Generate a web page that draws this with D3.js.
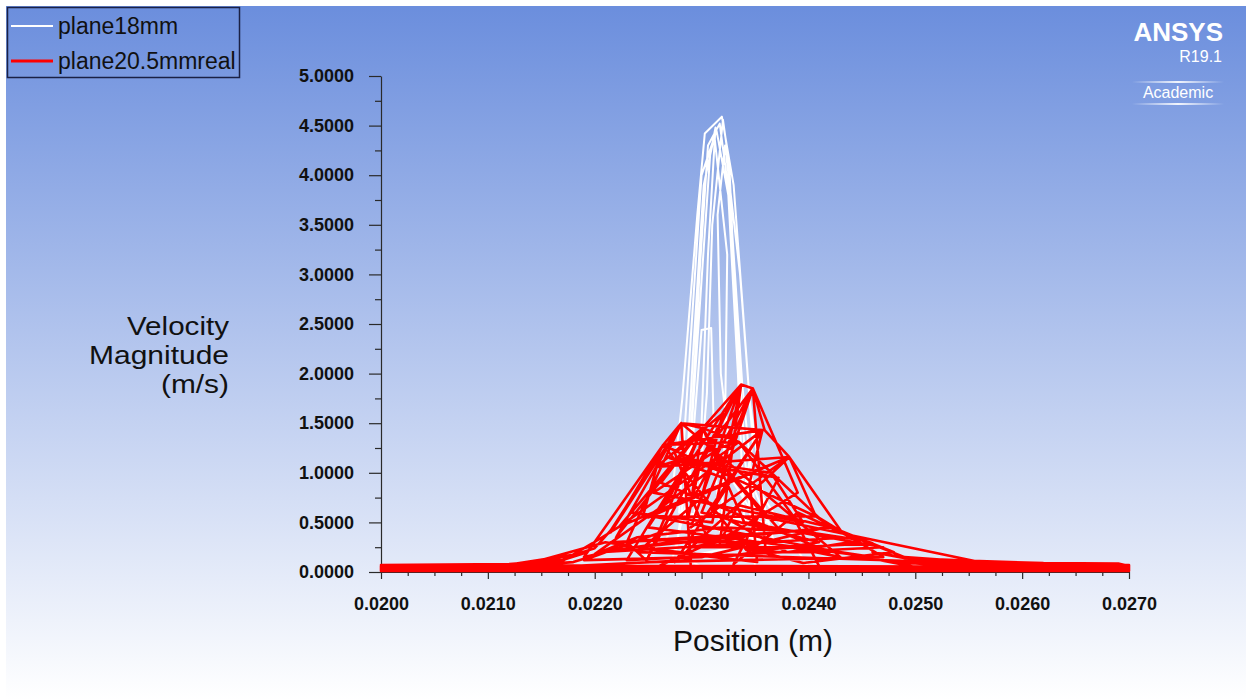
<!DOCTYPE html>
<html>
<head>
<meta charset="utf-8">
<script src="https://cdn.jsdelivr.net/npm/d3@7"></script>
<style>
  body { margin: 0; background: #fff; }
  svg { display: block; font-family: "Liberation Sans", Arial, sans-serif; }
</style>
</head>
<body>
<svg id="chart" width="1250" height="700"></svg>
<script>
// series names, as in the legend
const seriesNames = ["plane18mm", "plane20.5mmreal"];

// plane18mm : node order as Fluent plots it (position m, velocity m/s)
const whiteX = [0.02000, 0.02150, 0.02240, 0.02268, 0.02282, 0.02296, 0.02303, 0.02319, 0.02330, 0.02345,
  0.02358, 0.02372, 0.02352, 0.02338, 0.02327, 0.02317, 0.02306, 0.02298, 0.02290, 0.02280,
  0.02272, 0.02288, 0.02300, 0.02309, 0.02312, 0.02318, 0.02322, 0.02324, 0.02312, 0.02302,
  0.02292, 0.02286, 0.02276, 0.02300, 0.02350, 0.02341, 0.02332, 0.02326, 0.02320, 0.02310,
  0.02305, 0.02296, 0.02283, 0.02330, 0.02348, 0.02336, 0.02322, 0.02315, 0.02318, 0.02330,
  0.02365, 0.02285, 0.02294, 0.02308, 0.02313, 0.02306, 0.02300, 0.02292, 0.02340, 0.02334,
  0.02325, 0.02314, 0.02300, 0.02279, 0.02362, 0.02343, 0.02400, 0.02700];
const whiteY = [0.03, 0.04, 0.08, 0.35, 1.75, 3.60, 4.42, 4.59, 3.90, 1.73,
  0.70, 0.12, 0.40, 1.90, 3.70, 4.52, 4.30, 3.00, 1.40, 0.45,
  0.10, 0.80, 2.44, 2.46, 1.20, 0.30, 1.50, 3.20, 4.40, 3.90,
  2.20, 1.00, 0.20, 0.05, 0.06, 1.10, 2.60, 4.10, 4.56, 3.50,
  1.80, 0.60, 0.15, 0.25, 1.30, 3.00, 4.30, 3.60, 2.00, 0.90,
  0.30, 0.50, 2.00, 4.20, 4.48, 3.20, 1.50, 0.40, 0.50, 2.00,
  3.80, 4.45, 4.00, 0.60, 0.50, 1.00, 0.05, 0.03];

// plane20.5mmreal
const redX = [0.02000, 0.02050, 0.02100, 0.02140, 0.02180, 0.02200, 0.02215, 0.02235, 0.02250, 0.02264,
  0.02281, 0.02301, 0.02337, 0.02348, 0.02359, 0.02382, 0.02407, 0.02426, 0.02457, 0.02490,
  0.02530, 0.02600, 0.02660, 0.02700, 0.02700, 0.02500, 0.02410, 0.02385, 0.02335, 0.02301,
  0.02258, 0.02245, 0.02223, 0.02198, 0.02160, 0.02290, 0.02287, 0.02298, 0.02337, 0.02317,
  0.02334, 0.02382, 0.02432, 0.02460, 0.02342, 0.02264, 0.02335, 0.02410, 0.02470, 0.02250,
  0.02230, 0.02281, 0.02290, 0.02600, 0.02560, 0.02360, 0.02325, 0.02301, 0.02268, 0.02200,
  0.02240, 0.02320, 0.02400, 0.02450, 0.02380, 0.02310, 0.02357, 0.02345, 0.02352, 0.02270,
  0.02210, 0.02130, 0.02000, 0.02000, 0.02250, 0.02330, 0.02390, 0.02370, 0.02348, 0.02315,
  0.02285, 0.02262, 0.02190, 0.02300, 0.02420, 0.02480, 0.02395, 0.02305, 0.02275, 0.02320,
  0.02300, 0.02240, 0.02700, 0.02100, 0.02000,
  0.02000, 0.02700, 0.02700, 0.02000, 0.02140, 0.02700,
  0.02490, 0.02560, 0.02620, 0.02690, 0.02700, 0.02520, 0.02460, 0.02540, 0.02480, 0.02650,
  0.02000, 0.02120, 0.02170, 0.02190, 0.02100, 0.02180, 0.02210, 0.02190,
  0.02264, 0.02215, 0.02281, 0.02220, 0.02301, 0.02250, 0.02337, 0.02290, 0.02382, 0.02250,
  0.02357, 0.02275, 0.02334, 0.02420, 0.02240, 0.02320, 0.02410, 0.02300, 0.02348, 0.02360,
  0.02420, 0.02262, 0.02301, 0.02340, 0.02470, 0.02230, 0.02286, 0.02372, 0.02330, 0.02390,
  0.02440, 0.02205, 0.02270, 0.02360, 0.02430,
  0.02281, 0.02357, 0.02264, 0.02407, 0.02245, 0.02382, 0.02258, 0.02335, 0.02223, 0.02301,
  0.02290, 0.02348, 0.02320, 0.02270, 0.02365, 0.02395, 0.02255, 0.02310, 0.02375, 0.02215,
  0.02340, 0.02290, 0.02400, 0.02460, 0.02250, 0.02337, 0.02310, 0.02235,
  0.02500, 0.02000];
const redY = [0.04, 0.05, 0.07, 0.09, 0.17, 0.24, 0.42, 0.75, 1.00, 1.28,
  1.50, 1.45, 1.89, 1.85, 1.43, 1.16, 0.56, 0.42, 0.29, 0.15,
  0.12, 0.09, 0.08, 0.07, 0.02, 0.03, 0.06, 0.575, 1.31, 1.45,
  1.06, 0.557, 0.457, 0.29, 0.05, 0.12, 0.525, 1.06, 1.89, 0.29,
  0.675, 1.16, 0.39, 0.29, 0.22, 1.28, 1.31, 0.545, 0.15, 0.10,
  0.30, 1.50, 0.04, 0.05, 0.10, 0.55, 1.00, 1.45, 0.70, 0.18,
  0.35, 0.45, 0.40, 0.32, 0.20, 0.62, 1.43, 0.90, 0.10, 0.20,
  0.30, 0.06, 0.06, 0.02, 0.01, 0.40, 0.80, 1.30, 1.85, 1.38,
  0.85, 0.40, 0.12, 0.15, 0.46, 0.20, 0.09, 0.35, 1.20, 1.60,
  0.75, 0.20, 0.04, 0.03, 0.05,
  0.01, 0.01, 0.05, 0.03, 0.05, 0.03,
  0.14, 0.11, 0.09, 0.085, 0.06, 0.08, 0.20, 0.06, 0.10, 0.05,
  0.07, 0.08, 0.12, 0.19, 0.04, 0.10, 0.20, 0.15,
  1.28, 0.40, 1.50, 0.35, 1.45, 0.15, 1.89, 0.45, 1.16, 0.55,
  1.43, 0.10, 0.675, 0.45, 0.25, 0.15, 0.30, 0.60, 1.85, 0.20,
  0.20, 0.90, 1.45, 0.50, 0.25, 0.12, 1.10, 0.95, 0.08, 0.60,
  0.35, 0.20, 0.30, 0.30, 0.15,
  1.50, 1.43, 1.28, 0.56, 0.557, 1.16, 1.06, 1.31, 0.457, 1.45,
  0.70, 1.85, 0.95, 1.15, 1.00, 0.50, 0.80, 1.20, 0.40, 0.30,
  0.35, 0.25, 0.25, 0.15, 0.45, 1.89, 0.50, 0.60,
  0.05, 0.045];

const seriesColors = ["#ffffff", "#ff0000"];

// axes
const xDomain = [0.020, 0.027];
const yDomain = [0, 5];
const xMajor = d3.range(0, 8).map(i => 0.020 + i * 0.001);
const yMajor = d3.range(0, 11).map(i => i * 0.5);

const svg = d3.select("#chart");
const W = 1250, H = 700;

const defs = svg.append("defs");
const grad = defs.append("linearGradient")
    .attr("id", "bg")
    .attr("x1", 0).attr("y1", 0).attr("x2", 0).attr("y2", 1);
grad.append("stop").attr("offset", "0%").attr("stop-color", "#6b8edd");
grad.append("stop").attr("offset", "100%").attr("stop-color", "#ffffff");

svg.append("rect")
    .attr("x", 6).attr("y", 6)
    .attr("width", W - 10).attr("height", H - 6)
    .attr("fill", "url(#bg)");

const x = d3.scaleLinear().domain(xDomain).range([381, 1129]);
const y = d3.scaleLinear().domain(yDomain).range([572, 76]);

const axisColor = "#2a2a2a";

// minor ticks first
const xMinor = [];
for (let i = 0; i < 7; i++) for (let k = 1; k < 4; k++) xMinor.push(0.020 + i * 0.001 + k * 0.00025);
const yMinor = yMajor.slice(0, -1).map(v => v + 0.25);

svg.append("g")
    .attr("transform", "translate(0,572)")
    .call(d3.axisBottom(x).tickValues(xMinor).tickSize(4).tickFormat("").tickSizeOuter(0))
    .call(g => g.select(".domain").remove());
svg.append("g")
    .attr("transform", "translate(381,0)")
    .call(d3.axisLeft(y).tickValues(yMinor).tickSize(6).tickFormat("").tickSizeOuter(0))
    .call(g => g.select(".domain").remove());

svg.append("g")
    .attr("class", "x-axis")
    .attr("transform", "translate(0,572)")
    .call(d3.axisBottom(x).tickValues(xMajor).tickSize(7).tickPadding(18).tickSizeOuter(0)
        .tickFormat(d3.format(".4f")));

svg.append("g")
    .attr("class", "y-axis")
    .attr("transform", "translate(381,0)")
    .call(d3.axisLeft(y).tickValues(yMajor).tickSize(12).tickPadding(15).tickSizeOuter(0)
        .tickFormat(d3.format(".4f")));

svg.selectAll(".tick line, .domain").attr("stroke", axisColor).attr("stroke-width", 1.2);
svg.selectAll(".x-axis text, .y-axis text")
    .attr("fill", "#111")
    .style("font-size", "18px")
    .style("font-weight", "bold")
    .style("font-family", "'Liberation Sans', Arial, sans-serif");

// data lines
const line = d3.line().x(d => x(d[0])).y(d => y(d[1]));
const whitePts = d3.zip(whiteX, whiteY);
const redPts = d3.zip(redX, redY);

svg.append("path")
    .datum(whitePts)
    .attr("d", line)
    .attr("fill", "none")
    .attr("stroke", seriesColors[0])
    .attr("stroke-width", 2)
    .attr("stroke-linejoin", "round");

svg.append("path")
    .datum(redPts)
    .attr("d", line)
    .attr("fill", "none")
    .attr("stroke", seriesColors[1])
    .attr("stroke-width", 2.6)
    .attr("stroke-linejoin", "round");

// axis titles: three right-aligned lines, glyphs stretched a little like the Fluent font
const yTitleLines = [["Velocity", 102], ["Magnitude", 140], ["(m/s)", 68]];
yTitleLines.forEach(([t, len], i) => {
    svg.append("text")
        .attr("x", 229).attr("y", 335 + i * 29)
        .attr("text-anchor", "end")
        .attr("fill", "#111")
        .attr("textLength", len)
        .attr("lengthAdjust", "spacingAndGlyphs")
        .style("font-size", "25px")
        .text(t);
});

svg.append("text")
    .attr("x", 753).attr("y", 651)
    .attr("text-anchor", "middle")
    .attr("fill", "#111")
    .style("font-size", "30px")
    .text("Position (m)");

// legend
const legend = svg.append("g");
legend.append("rect")
    .attr("x", 7.5).attr("y", 7.5)
    .attr("width", 232).attr("height", 70)
    .attr("fill", "none")
    .attr("stroke", "#1b2145")
    .attr("stroke-width", 1.5);
seriesNames.forEach((name, i) => {
    const ly = 26 + i * 35;
    legend.append("line")
        .attr("x1", 11).attr("x2", 53)
        .attr("y1", ly).attr("y2", ly)
        .attr("stroke", seriesColors[i])
        .attr("stroke-width", i === 0 ? 2 : 3);
    legend.append("text")
        .attr("x", 58).attr("y", ly + 8)
        .attr("fill", "#111")
        .style("font-size", "23px")
        .text(name);
});

// ANSYS badge
const logo = svg.append("g").attr("fill", "#ffffff");
logo.append("text")
    .attr("x", 1223).attr("y", 41)
    .attr("text-anchor", "end")
    .style("font-size", "26px").style("font-weight", "bold")
    .text("ANSYS");
logo.append("text")
    .attr("x", 1222).attr("y", 62)
    .attr("text-anchor", "end")
    .style("font-size", "16px")
    .text("R19.1");
const lineGrad = defs.append("linearGradient").attr("id", "sep");
lineGrad.append("stop").attr("offset", "0%").attr("stop-color", "#fff").attr("stop-opacity", 0);
lineGrad.append("stop").attr("offset", "50%").attr("stop-color", "#fff").attr("stop-opacity", 0.9);
lineGrad.append("stop").attr("offset", "100%").attr("stop-color", "#fff").attr("stop-opacity", 0);
[82, 104].forEach(ly => {
    logo.append("rect")
        .attr("x", 1132).attr("y", ly - 1)
        .attr("width", 92).attr("height", 2)
        .attr("fill", "url(#sep)");
});
logo.append("text")
    .attr("x", 1178).attr("y", 98)
    .attr("text-anchor", "middle")
    .style("font-size", "16px")
    .text("Academic");
</script>
</body>
</html>
